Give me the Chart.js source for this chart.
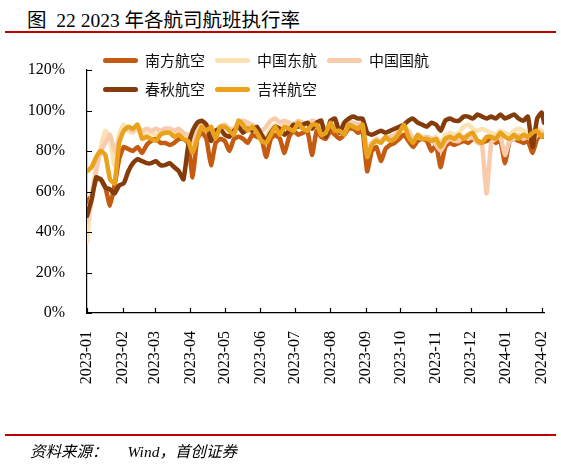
<!DOCTYPE html>
<html>
<head>
<meta charset="utf-8">
<script src="https://cdn.jsdelivr.net/npm/chart.js@4.4.0/dist/chart.umd.min.js"></script>
<style>
  html, body { margin: 0; padding: 0; background: #fff; }
  #wrap { position: relative; width: 561px; height: 464px; overflow: hidden; }
  #title { position: absolute; left: 27px; top: 4px; font: 19.5px "Liberation Serif", "Noto Sans CJK SC"; color: #000; white-space: nowrap; }
  .rule { position: absolute; left: 5px; width: 551px; height: 2px; background: #C00000; }
  #chart { position: absolute; left: 0; top: 0; }
  .item { position: absolute; font: 15px "Noto Sans CJK SC"; line-height: 18px; white-space: nowrap; color: #111; }
  .item i { display: inline-block; width: 35px; height: 5px; border-radius: 3px; vertical-align: middle; margin-right: 7px; position: relative; top: -1px; }
  #source { position: absolute; left: 30px; top: 439px; font: italic 15.5px "Liberation Serif", "Noto Sans CJK SC"; color: #000; white-space: nowrap; }
  #source span { margin-left: 20px; }
</style>
</head>
<body>
<div id="wrap">
  <div id="title">图&nbsp; 22 2023 年各航司航班执行率</div>
  <div class="rule" style="top:31px"></div>
  <canvas id="chart" width="546" height="464"></canvas>
  <div id="legend"></div>
  <div class="rule" style="top:434px"></div>
  <div id="source">资料来源：<span>Wind，首创证券</span></div>
</div>
<script>
// day index from 2023-01-01
const days = [0, 4, 8, 12, 16, 20, 24, 28, 32, 36, 40, 44, 48, 52, 56, 60, 64, 68, 72, 76, 80, 84, 88, 92, 96, 100,
  104, 108, 112, 116, 120, 124, 128, 132, 136, 140, 144, 148, 152, 156, 160, 164, 168, 172, 176, 180, 184, 188, 192, 196, 200,
  204, 208, 212, 216, 220, 224, 228, 232, 236, 240, 244, 248, 252, 256, 260, 264, 268, 272, 276, 280, 284, 288, 292, 296, 300,
  304, 308, 312, 316, 320, 324, 328, 332, 336, 340, 344, 348, 352, 356, 360, 364, 368, 372, 376, 380, 384, 388, 392, 396, 398];

const southern = [55, 58, 66, 66, 62, 53, 63, 76, 82, 81, 80, 82, 79, 83, 85, 86, 84, 84, 83, 84, 86, 86, 84, 67, 86, 89,
  86, 73, 84, 86, 85, 80, 86, 87, 86, 84, 88, 87, 86, 77, 86, 88, 86, 79, 87, 90, 88, 89, 90, 78, 90,
  87, 86, 90, 88, 86, 88, 91, 91, 89, 90, 70, 80, 82, 75, 81, 83, 84, 86, 88, 85, 82, 85, 86, 85, 80,
  83, 72, 82, 84, 83, 84, 85, 84, 86, 85, 84, 85, 86, 84, 85, 74, 85, 86, 85, 84, 85, 79, 86, 88, 87];

const eastern = [35, 58, 72, 82, 90, 86, 73, 88, 93, 90, 89, 91, 89, 88, 89, 88, 89, 91, 90, 89, 90, 88, 87, 83, 89, 92,
  91, 92, 89, 92, 93, 91, 90, 94, 94, 92, 93, 90, 88, 87, 91, 93, 91, 93, 92, 92, 94, 92, 92, 93, 93,
  90, 90, 94, 92, 90, 90, 94, 93, 92, 94, 78, 84, 86, 85, 87, 86, 87, 90, 93, 88, 85, 88, 87, 87, 86,
  87, 84, 88, 89, 88, 89, 92, 93, 91, 90, 91, 90, 89, 88, 90, 89, 88, 90, 91, 90, 89, 90, 91, 90, 89];

const airChina = [45, 55, 70, 80, 84, 88, 80, 86, 90, 91, 90, 92, 90, 91, 90, 91, 90, 91, 91, 90, 91, 89, 88, 84, 90, 93,
  92, 91, 90, 92, 93, 91, 91, 94, 95, 94, 93, 91, 90, 92, 95, 96, 94, 95, 94, 93, 95, 94, 93, 95, 94,
  92, 90, 93, 92, 89, 92, 94, 94, 93, 94, 80, 84, 86, 85, 86, 87, 88, 90, 92, 90, 86, 87, 86, 87, 86,
  83, 80, 84, 86, 85, 85, 87, 86, 87, 84, 83, 59, 84, 86, 87, 78, 85, 86, 88, 86, 87, 85, 88, 89, 88];

const spring = [48, 56, 67, 66, 62, 61, 59, 63, 64, 70, 74, 76, 75, 74, 74, 75, 73, 73, 74, 72, 70, 66, 82, 90, 94, 95,
  93, 85, 90, 91, 88, 87, 90, 92, 89, 91, 90, 92, 88, 85, 89, 92, 91, 88, 90, 93, 92, 93, 94, 91, 94,
  95, 87, 95, 96, 89, 94, 96, 97, 96, 96, 89, 88, 89, 90, 89, 90, 91, 92, 93, 95, 96, 94, 93, 92, 94,
  93, 90, 95, 96, 95, 95, 97, 97, 96, 98, 97, 96, 97, 96, 98, 96, 97, 98, 96, 95, 97, 82, 96, 99, 94];

const juneyao = [70, 72, 77, 80, 78, 66, 64, 84, 90, 92, 91, 93, 86, 87, 86, 85, 88, 89, 89, 87, 88, 86, 85, 79, 86, 92,
  90, 92, 86, 92, 92, 90, 88, 95, 93, 90, 92, 89, 85, 84, 88, 92, 88, 92, 91, 90, 94, 91, 90, 93, 93,
  88, 89, 94, 90, 90, 88, 93, 92, 91, 93, 77, 83, 85, 84, 87, 85, 86, 89, 93, 87, 84, 88, 86, 86, 85,
  86, 82, 86, 87, 86, 88, 86, 88, 89, 85, 84, 87, 87, 86, 89, 87, 86, 88, 86, 88, 87, 89, 90, 87, 88];

const seriesNames = ['南方航空', '中国东航', '中国国航', '春秋航空', '吉祥航空'];
const seriesColors = ['#C55A11', '#FBE2B3', '#F8CBAD', '#843C0C', '#EAA21A'];
const seriesValues = [southern, eastern, airChina, spring, juneyao];

const monthStarts = [0, 31, 59, 90, 120, 151, 181, 212, 243, 273, 304, 334, 365, 396];
const monthLabels = ['2023-01', '2023-02', '2023-03', '2023-04', '2023-05', '2023-06', '2023-07',
  '2023-08', '2023-09', '2023-10', '2023-11', '2023-12', '2024-01', '2024-02'];
const yTicks = [0, 20, 40, 60, 80, 100, 120];

const datasets = seriesNames.map((name, k) => ({
  label: name,
  data: days.map((d, i) => ({ x: d, y: seriesValues[k][i] })),
  borderColor: seriesColors[k],
  backgroundColor: seriesColors[k],
  borderWidth: 4.5,
  pointRadius: 0,
  tension: 0.15,
  borderJoinStyle: 'round',
  borderCapStyle: 'round',
  order: seriesNames.length - 1 - k  // last series on top, like the original
}));

// small tick marks pointing into the plot
const inwardTicks = {
  id: 'inwardTicks',
  afterDraw(chart) {
    const { ctx, chartArea, scales } = chart;
    ctx.save();
    ctx.strokeStyle = '#000';
    ctx.lineWidth = 1.2;
    ctx.beginPath();
    scales.x.ticks.forEach(t => {
      const px = Math.round(scales.x.getPixelForValue(t.value)) + 0.5;
      ctx.moveTo(px, chartArea.bottom);
      ctx.lineTo(px, chartArea.bottom - 5);
    });
    scales.y.ticks.forEach(t => {
      const py = Math.round(scales.y.getPixelForValue(t.value)) + 0.5;
      ctx.moveTo(chartArea.left, py);
      ctx.lineTo(chartArea.left + 5, py);
    });
    ctx.stroke();
    ctx.restore();
  }
};

const chart = new Chart(document.getElementById('chart'), {
  type: 'line',
  data: { datasets },
  options: {
    responsive: false,
    animation: false,
    layout: { padding: { left: 0, top: 70, right: 2, bottom: 0 } },
    plugins: { legend: { display: false }, tooltip: { enabled: false } },
    scales: {
      x: {
        type: 'linear',
        min: 0,
        max: 398,
        grid: { display: false },
        border: { display: true, color: '#000', width: 1.2 },
        afterBuildTicks: s => { s.ticks = monthStarts.map(v => ({ value: v })); },
        afterFit: s => { s.height = 151; s.paddingLeft = 0; s.paddingRight = 0; },
        ticks: {
          autoSkip: false,
          minRotation: 90,
          maxRotation: 90,
          padding: 10,
          color: '#000',
          font: { family: 'Liberation Serif', size: 16 },
          callback: (v, i) => monthLabels[i]
        }
      },
      y: {
        min: 0,
        max: 120,
        grid: { display: false },
        border: { display: true, color: '#000', width: 1.2 },
        afterBuildTicks: s => { s.ticks = yTicks.map(v => ({ value: v })); },
        afterFit: s => { s.width = 87; },
        ticks: {
          padding: 14,
          color: '#000',
          font: { family: 'Liberation Serif', size: 16 },
          callback: v => v + '%'
        }
      }
    }
  },
  plugins: [inwardTicks]
});

// legend laid out in two rows like the original
const legendPos = [[103, 51], [215, 51], [327, 51], [103, 80], [215, 80]];
const legend = document.getElementById('legend');
chart.data.datasets.forEach((ds, k) => {
  const el = document.createElement('div');
  el.className = 'item';
  el.style.left = legendPos[k][0] + 'px';
  el.style.top = legendPos[k][1] + 'px';
  el.innerHTML = '<i style="background:' + ds.borderColor + '"></i>' + ds.label;
  legend.appendChild(el);
});
</script>
</body>
</html>
